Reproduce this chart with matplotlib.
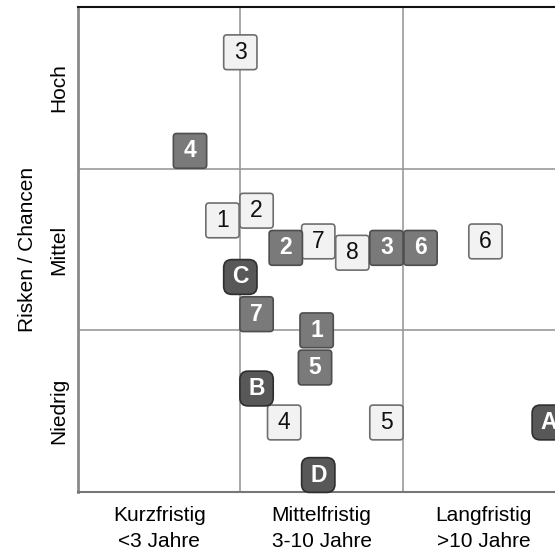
import matplotlib
matplotlib.use("Agg")
import matplotlib.pyplot as plt
from matplotlib.patches import FancyBboxPatch

plt.rcParams['font.family'] = ['Liberation Sans', 'DejaVu Sans']

# Time horizon (x) and risk level (y) per item, in grid units (0..3)
light_labels = ["3", "1", "2", "7", "8", "6", "4", "5"]
light_x = [1.00, 0.89, 1.10, 1.48, 1.69, 2.51, 1.27, 1.90]
light_y = [2.72, 1.68, 1.74, 1.55, 1.48, 1.55, 0.43, 0.43]

mid_labels = ["4", "2", "3", "6", "7", "1", "5"]
mid_x = [0.69, 1.28, 1.90, 2.11, 1.10, 1.47, 1.46]
mid_y = [2.11, 1.51, 1.51, 1.51, 1.10, 1.00, 0.77]

dark_labels = ["C", "B", "A", "D"]
dark_x = [1.00, 1.10, 2.90, 1.48]
dark_y = [1.33, 0.64, 0.43, 0.105]

x_labels = ["Kurzfristig\n<3 Jahre", "Mittelfristig\n3-10 Jahre", "Langfristig\n>10 Jahre"]
y_labels = ["Niedrig", "Mittel", "Hoch"]

fig = plt.figure(figsize=(5.55, 5.51), dpi=100)
# axes runs a bit past the right edge of the figure, like the original
ax = fig.add_axes([78 / 555, 59 / 551, 487 / 555, 485 / 551])
ax.set_xlim(0, 3)
ax.set_ylim(0, 3)

# grid lines
for v in [1, 2]:
    ax.axvline(v, color="#9a9a9a", lw=1.2, zorder=1)
    ax.axhline(v, color="#9a9a9a", lw=1.2, zorder=1)

ax.spines['top'].set_color("#111111")
ax.spines['top'].set_linewidth(1.5)
ax.spines['left'].set_color("#8a8a8a")
ax.spines['left'].set_linewidth(2)
ax.spines['bottom'].set_color("#777777")
ax.spines['bottom'].set_linewidth(1.5)
ax.spines['right'].set_visible(False)

ax.set_xticks([0.5, 1.5, 2.5])
ax.set_xticklabels(x_labels, fontsize=15, linespacing=1.5)
ax.set_yticks([0.5, 1.5, 2.5])
ax.set_yticklabels(y_labels, fontsize=15, rotation=90, va="center")
ax.tick_params(length=0)
ax.tick_params(axis='x', pad=10)
ax.tick_params(axis='y', pad=7)
ax.set_ylabel("Risken / Chancen", fontsize=15, labelpad=9)

bw, bh = 0.205, 0.215


def draw_boxes(labels, xs, ys, face, edge, tcol, weight, rad):
    for lab, x, y in zip(labels, xs, ys):
        box = FancyBboxPatch((x - bw / 2 + rad, y - bh / 2 + rad), bw - 2 * rad, bh - 2 * rad,
                             boxstyle="round,pad=%f,rounding_size=%f" % (rad, rad),
                             facecolor=face, edgecolor=edge, lw=1.2, zorder=3,
                             clip_on=False)
        ax.add_patch(box)
        ax.text(x, y, lab, ha="center", va="center", fontsize=16.5, color=tcol,
                fontweight=weight, zorder=4, clip_on=False)


draw_boxes(light_labels, light_x, light_y, "#f2f2f2", "#6e6e6e", "#111111", "normal", 0.02)
draw_boxes(mid_labels, mid_x, mid_y, "#7a7a7a", "#4e4e4e", "white", "bold", 0.02)
draw_boxes(dark_labels, dark_x, dark_y, "#585858", "#2e2e2e", "white", "bold", 0.05)

fig.savefig("out.png", dpi=100)
